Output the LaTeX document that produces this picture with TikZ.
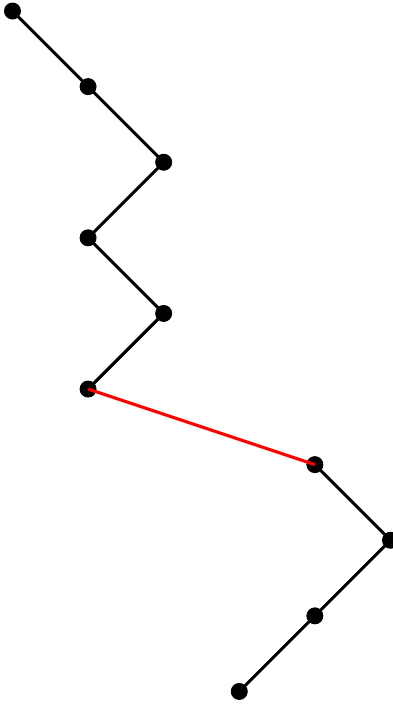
\documentclass[tikz,border=0pt]{standalone}
\begin{document}
\begin{tikzpicture}
[
Dot/.style={circle,draw=black,fill=black,inner sep=0pt,minimum size=2.1mm},
Pathline/.style={-,draw=black,line width=1.15pt},
Redline/.style={-,draw=red,line width=1.15pt}
]

\useasboundingbox (-0.165,0.146) rectangle (5.02,-9.166);

\node[Dot] (p0) at (0,0) {};
\node[Dot] (p1) at (1,-1) {};
\node[Dot] (p2) at (2,-2) {};
\node[Dot] (p3) at (1,-3) {};
\node[Dot] (p4) at (2,-4) {};
\node[Dot] (p5) at (1,-5) {};
\node[Dot] (p6) at (4,-6) {};
\node[Dot] (p7) at (5,-7) {};
\node[Dot] (p8) at (4,-8) {};
\node[Dot] (p9) at (3,-9) {};

\draw[Pathline] (p0.center)--(p1.center)--(p2.center)--(p3.center)--(p4.center)--(p5.center);
\draw[Pathline] (p6.center)--(p7.center)--(p8.center)--(p9.center);
\draw[Redline]  (p5.center)--(p6.center);
\end{tikzpicture}
\end{document}
